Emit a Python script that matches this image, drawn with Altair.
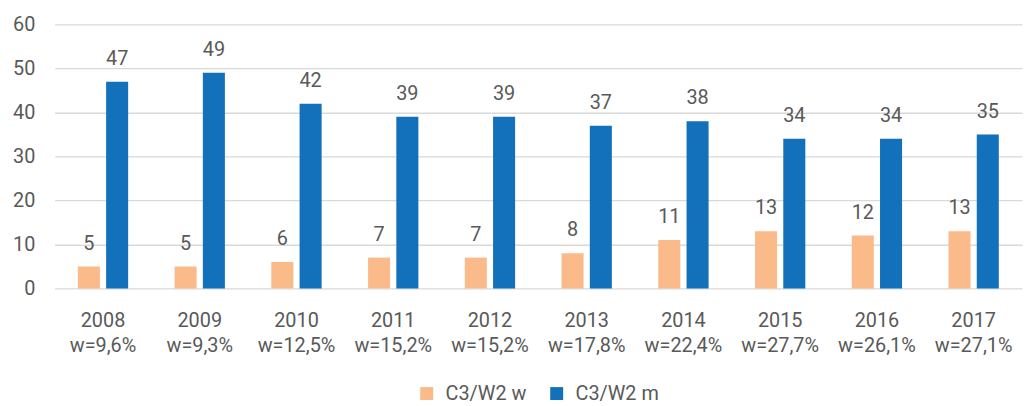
import altair as alt
import pandas as pd

years = ["2008", "2009", "2010", "2011", "2012", "2013", "2014", "2015", "2016", "2017"]
pct_w = ["9,6%", "9,3%", "12,5%", "15,2%", "15,2%", "17,8%", "22,4%", "27,7%", "26,1%", "27,1%"]
val_w = [5, 5, 6, 7, 7, 8, 11, 13, 12, 13]
val_m = [47, 49, 42, 39, 39, 37, 38, 34, 34, 35]
series = ["C3/W2 w", "C3/W2 m"]
colors = ["#FABA8A", "#1271BA"]

rows = []
for y, p, a, b in zip(years, pct_w, val_w, val_m):
    cat = f"{y}|w={p}"
    rows.append({"cat": cat, "series": series[0], "value": a})
    rows.append({"cat": cat, "series": series[1], "value": b})
df = pd.DataFrame(rows)

FONT = "Roboto"
GREY = "#595959"
FS = 20

x = alt.X("cat:N", sort=None, title=None,
          scale=alt.Scale(paddingInner=0.48, paddingOuter=0.24),
          axis=alt.Axis(labelExpr="split(datum.value, '|')", labelAngle=0,
                        labelFont=FONT, labelFontSize=FS, labelColor=GREY,
                        labelLineHeight=26, labelPadding=22, labelBaseline="top",
                        ticks=False, domain=False, grid=False))
xo = alt.XOffset("series:N", sort=series, scale=alt.Scale(paddingInner=0.22, paddingOuter=0))
y = alt.Y("value:Q", title=None,
          scale=alt.Scale(domain=[0, 60]),
          axis=alt.Axis(values=[0, 10, 20, 30, 40, 50, 60], labelFont=FONT, labelFontSize=FS,
                        labelColor=GREY, labelPadding=20, ticks=False, domain=False,
                        gridColor="#D9D9D9", gridWidth=1.3))

color = alt.Color("series:N", sort=series,
                  scale=alt.Scale(domain=series, range=colors),
                  legend=alt.Legend(title=None, orient="none", direction="horizontal",
                                    legendX=365, legendY=362, symbolType="square",
                                    symbolSize=170, symbolStrokeWidth=0, labelFont=FONT,
                                    labelFontSize=FS, labelColor=GREY, columnPadding=20,
                                    labelOffset=9))

bars = alt.Chart(df).mark_bar().encode(x=x, xOffset=xo, y=y, color=color)
labels = alt.Chart(df).mark_text(font=FONT, fontSize=FS, color=GREY, baseline="alphabetic", dy=-17).encode(
    x=x, xOffset=xo, y=y, text="value:Q")

chart = alt.layer(bars, labels).properties(
    width=975, height=266,
    autosize=alt.AutoSizeParams(type="none"),
    padding={"left": 47, "top": 15, "right": 3, "bottom": 125},
).configure_view(stroke=None)

chart.save("out.html", embed_options={"renderer": "svg", "actions": False})
